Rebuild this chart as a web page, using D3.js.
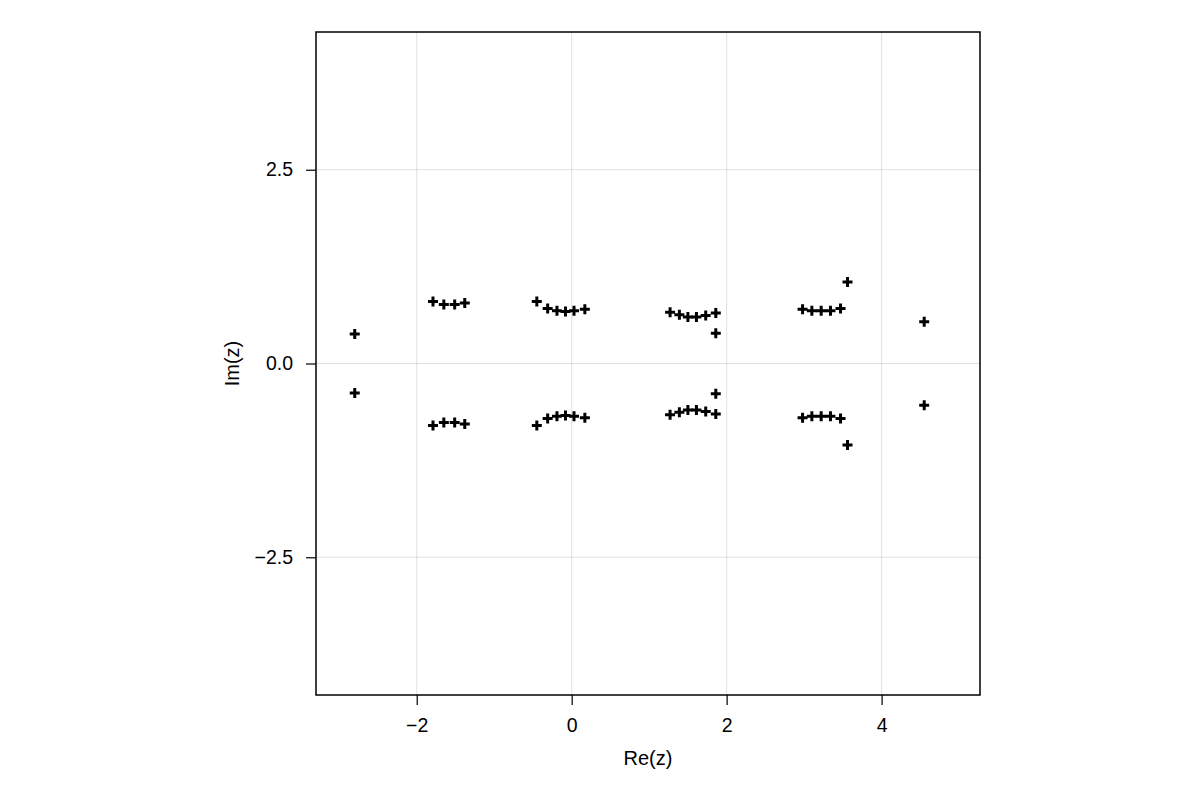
<!DOCTYPE html>
<html>
<head>
<meta charset="utf-8">
<script src="https://cdn.jsdelivr.net/npm/d3@7/dist/d3.min.js"></script>
<style>
html,body{margin:0;padding:0;background:#fff;}
svg{display:block;}
text{font-family:"Liberation Sans", Arial, sans-serif;}
</style>
</head>
<body>
<svg id="chart" width="1200" height="800"></svg>
<script>
// Root locations (real part, imaginary part)
const reValues = [
  -2.80, -1.79, -1.65, -1.51, -1.38,
  -0.45, -0.31, -0.19, -0.08, 0.03, 0.17,
  1.27, 1.39, 1.50, 1.61, 1.73, 1.86, 1.86,
  2.98, 3.10, 3.22, 3.34, 3.47, 3.56,
  4.55,
  -2.80, -1.79, -1.65, -1.51, -1.38,
  -0.45, -0.31, -0.19, -0.08, 0.03, 0.17,
  1.27, 1.39, 1.50, 1.61, 1.73, 1.86, 1.86,
  2.98, 3.10, 3.22, 3.34, 3.47, 3.56,
  4.55
];
const imValues = [
  0.38, 0.80, 0.76, 0.76, 0.78,
  0.80, 0.71, 0.68, 0.67, 0.68, 0.70,
  0.66, 0.63, 0.60, 0.60, 0.62, 0.65, 0.39,
  0.70, 0.68, 0.68, 0.68, 0.71, 1.05,
  0.54,
  -0.38, -0.80, -0.76, -0.76, -0.78,
  -0.80, -0.71, -0.68, -0.67, -0.68, -0.70,
  -0.66, -0.63, -0.60, -0.60, -0.62, -0.65, -0.39,
  -0.70, -0.68, -0.68, -0.68, -0.71, -1.05,
  -0.54
];
const xTicks = [-2, 0, 2, 4];
const yTicks = [-2.5, 0, 2.5];
const xDomain = [-3.30, 5.27];
const yDomain = [-4.277, 4.277];

(function () {
const svg = d3.select("#chart");
const pL = 316, pR = 980, pT = 32, pB = 695;

const x = d3.scaleLinear().domain(xDomain).range([pL, pR]);
const y = d3.scaleLinear().domain(yDomain).range([pB, pT]);

const fmtX = d => d3.format("d")(d).replace("-", "\u2212");
const fmtY = d => d3.format(".1f")(d).replace("-", "\u2212");

// grid
const grid = svg.append("g");
grid.selectAll("line.gx").data(xTicks).join("line")
  .attr("x1", d => x(d)).attr("x2", d => x(d))
  .attr("y1", pT).attr("y2", pB)
  .attr("stroke", "#000").attr("stroke-opacity", 0.12).attr("stroke-width", 1);
grid.selectAll("line.gy").data(yTicks).join("line")
  .attr("y1", d => y(d)).attr("y2", d => y(d))
  .attr("x1", pL).attr("x2", pR)
  .attr("stroke", "#000").attr("stroke-opacity", 0.12).attr("stroke-width", 1);

// points (cross markers)
const pts = reValues.map((r, i) => [r, imValues[i]]);
const arm = 5, thick = 3;
svg.append("g").selectAll("path").data(pts).join("path")
  .attr("transform", d => `translate(${x(d[0])},${y(d[1])})`)
  .attr("d", `M${-arm},${-thick/2}H${-thick/2}V${-arm}H${thick/2}V${-thick/2}H${arm}V${thick/2}H${thick/2}V${arm}H${-thick/2}V${thick/2}H${-arm}Z`)
  .attr("fill", "#000");

// axes
const xAxis = d3.axisBottom(x).tickValues(xTicks).tickFormat(fmtX).tickSize(10).tickPadding(13);
const yAxis = d3.axisLeft(y).tickValues(yTicks).tickFormat(fmtY).tickSize(10).tickPadding(13);

const gx = svg.append("g").attr("transform", `translate(0,${pB})`).call(xAxis);
const gy = svg.append("g").attr("transform", `translate(${pL},0)`).call(yAxis);
[gx, gy].forEach(g => {
  g.select(".domain").remove();
  g.selectAll(".tick line").attr("stroke", "#000").attr("stroke-width", 1.2);
  g.selectAll(".tick text").attr("fill", "#000").style("font-size", "19.5px")
    .style("font-family", "'Liberation Sans', Arial, sans-serif");
});

// frame
svg.append("rect").attr("x", pL).attr("y", pT)
  .attr("width", pR - pL).attr("height", pB - pT)
  .attr("fill", "none").attr("stroke", "#000").attr("stroke-width", 1.5);

// labels
svg.append("text").attr("x", (pL + pR) / 2).attr("y", 765)
  .attr("text-anchor", "middle").style("font-size", "20px").text("Re(z)");
svg.append("text").attr("transform", `translate(239,${(pT + pB) / 2}) rotate(-90)`)
  .attr("text-anchor", "middle").style("font-size", "20px").text("Im(z)");
})();
</script>
</body>
</html>
